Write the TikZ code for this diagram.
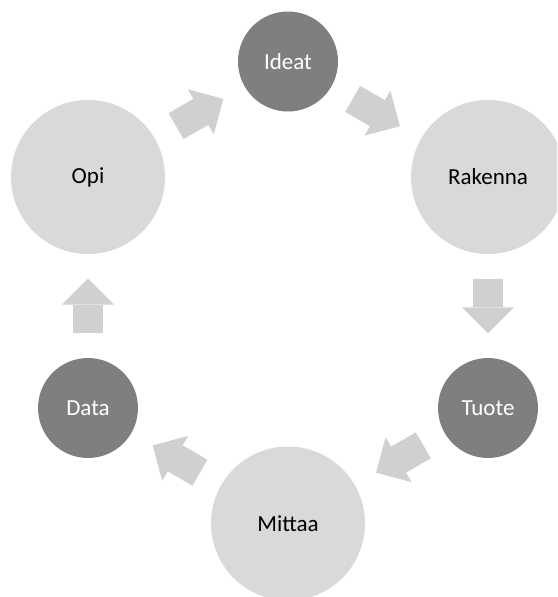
\documentclass[tikz,border=0pt]{standalone}
\usepackage{fontspec}
\setmainfont{Carlito}
\usetikzlibrary{arrows.meta}
\definecolor{lightdisc}{RGB}{217,217,217}
\definecolor{darkdisc}{RGB}{127,127,127}
\definecolor{arrowgray}{RGB}{208,208,208}
\begin{document}
\begin{tikzpicture}[x=1pt,y=-1pt,
  label font/.style={font=\fontsize{23}{27}\selectfont},
  bigdisc/.style={circle, fill=lightdisc, minimum size=154pt, inner sep=0pt,
    text=black, label font},
  smalldisc/.style={circle, fill=darkdisc, minimum size=100pt, inner sep=0pt,
    text=white, label font},
  cycarrow/.style={draw=arrowgray, line width=30pt,
    shorten <=24.5pt, shorten >=24.5pt,
    -{Triangle[width=52pt,length=26pt,line width=0pt]}}]
  % page frame
  \useasboundingbox (0,0) rectangle (557,597);
  \clip (0,0) rectangle (557,597);
  % six stages on a hexagon of radius 231 around (288,292.5)
  \node[smalldisc] (ideat)   at (288,61.5)  {Ideat};
  \node[bigdisc]   (rakenna) at (488,177)   {Rakenna};
  \node[smalldisc] (tuote)   at (488,408)   {Tuote};
  \node[bigdisc]   (mittaa)  at (288,523.5) {Mittaa};
  \node[smalldisc] (data)    at (88,408)    {Data};
  \node[bigdisc]   (opi)     at (88,177)    {Opi};
  % block arrows in the gaps between the discs
  \draw[cycarrow] (ideat)   -- (rakenna);
  \draw[cycarrow] (rakenna) -- (tuote);
  \draw[cycarrow] (tuote)   -- (mittaa);
  \draw[cycarrow] (mittaa)  -- (data);
  \draw[cycarrow] (data)    -- (opi);
  \draw[cycarrow] (opi)     -- (ideat);
\end{tikzpicture}
\end{document}
